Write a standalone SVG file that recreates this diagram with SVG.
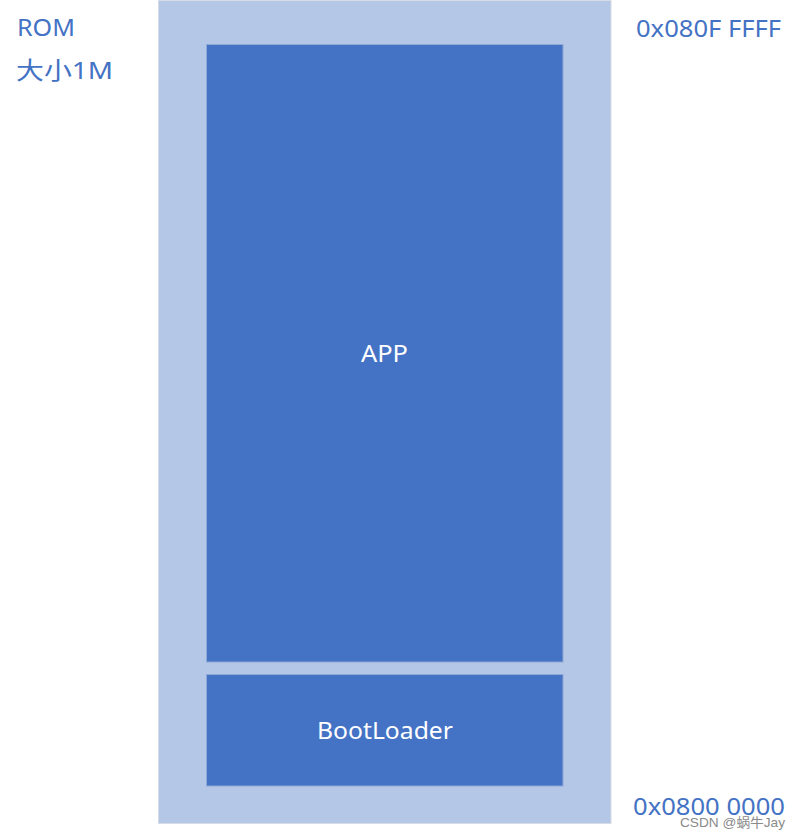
<svg xmlns="http://www.w3.org/2000/svg" width="801" height="838" viewBox="0 0 801 838">
<style>
.lbl{font-family:"Noto Sans","Open Sans","Noto Sans CJK SC",sans-serif;font-size:24px;fill:#4472C4}
.in{font-family:"Noto Sans","Open Sans",sans-serif;font-size:24px;fill:#FFFFFF}
.blk{fill:#4472C4;stroke:#8FA8D6;stroke-width:1}
</style>
<rect width="801" height="838" fill="#FFFFFF"/>
<g id="rom">
<rect x="158.5" y="0.5" width="452.5" height="823" fill="#B4C7E7" stroke="#D5DCE6" stroke-width="1"/>
</g>
<g id="app">
<rect class="blk" x="206.5" y="44.5" width="356.5" height="617.5"/>
<text class="in" x="361" y="362" textLength="47" lengthAdjust="spacingAndGlyphs">APP</text>
</g>
<g id="bootloader">
<rect class="blk" x="206.5" y="674.5" width="356.5" height="111.5"/>
<text class="in" x="317" y="739" textLength="136" lengthAdjust="spacingAndGlyphs">BootLoader</text>
</g>
<g id="labels">
<text class="lbl" x="17" y="36" textLength="58" lengthAdjust="spacingAndGlyphs">ROM</text>
<text class="lbl" x="16" y="79" textLength="97" lengthAdjust="spacingAndGlyphs">大小1M</text>
<text class="lbl" x="636" y="37" textLength="145" lengthAdjust="spacingAndGlyphs">0x080F FFFF</text>
<text class="lbl" x="633" y="815" textLength="152" lengthAdjust="spacingAndGlyphs">0x0800 0000</text>
<text x="680" y="827" font-family="'Liberation Sans','Noto Sans CJK SC',sans-serif" font-size="13" fill="#8A8A8A" textLength="105" lengthAdjust="spacingAndGlyphs">CSDN @蜗牛Jay</text>
</g>
<g id="connectors"></g>
</svg>
